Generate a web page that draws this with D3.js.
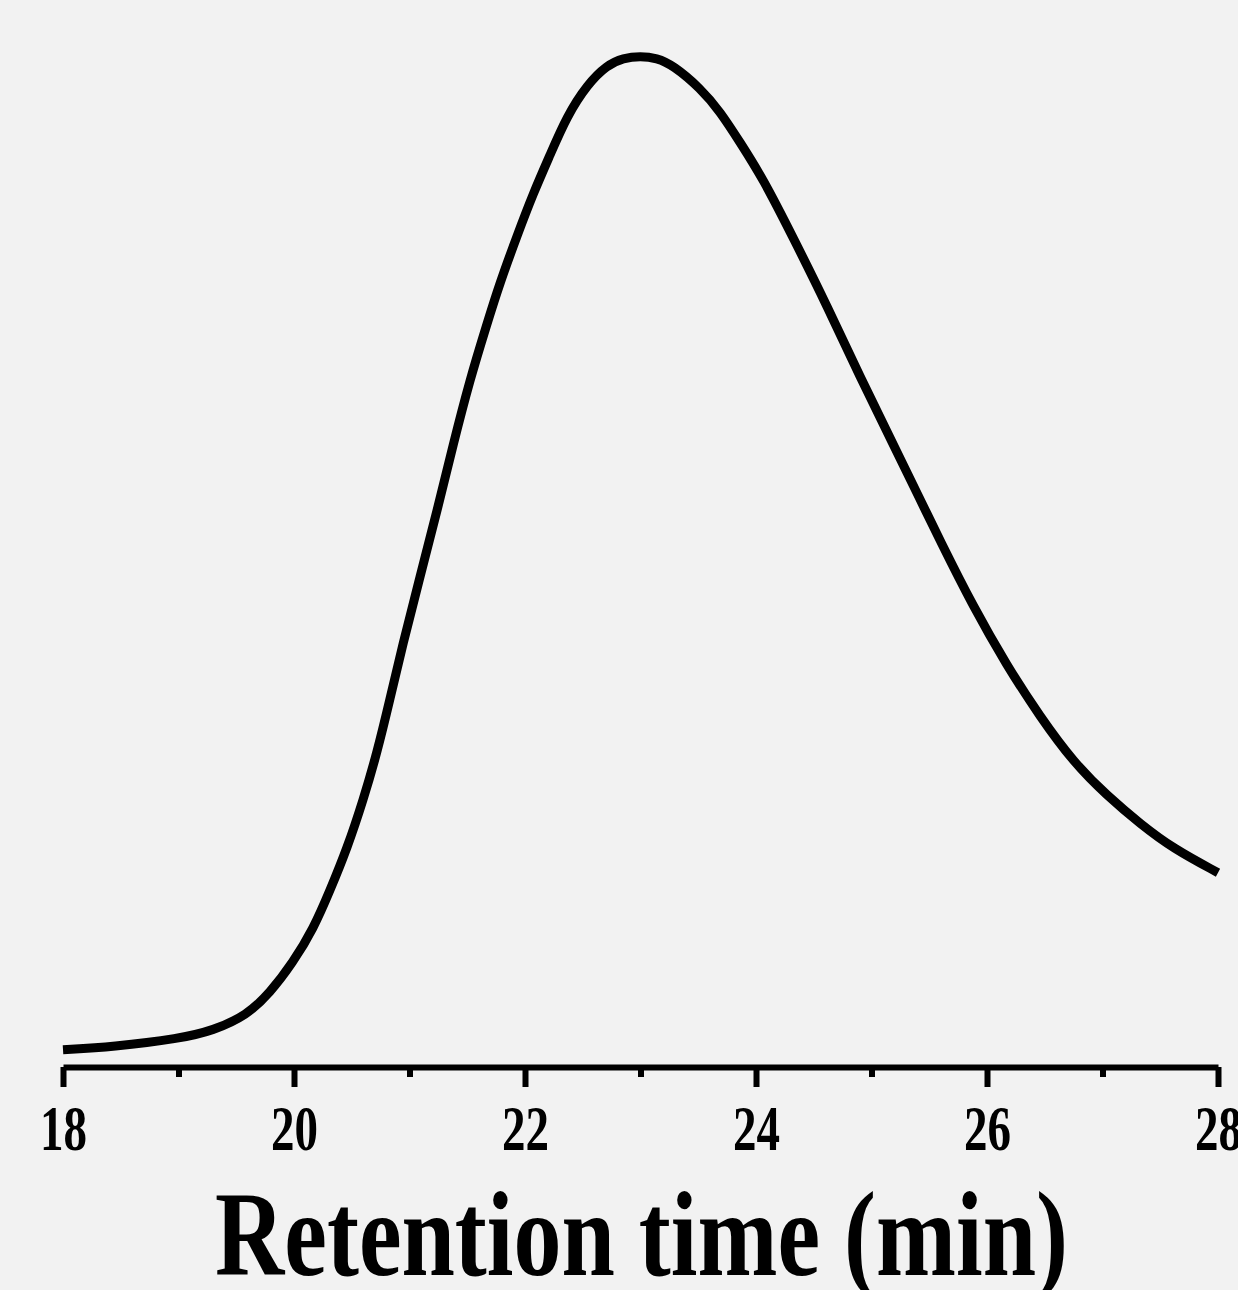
<!DOCTYPE html>
<html>
	<head>
		<style>
			body { margin: 0; background: #f2f2f2; }
			svg { display: block; }
		</style>
	</head>
	<body>
		<script src="https://cdn.jsdelivr.net/npm/d3@7"></script>

		<div id="canvas"></div>

		<script>
			// retention time (min) and detector signal (normalised)
			var times = [18.0, 18.43, 19.01, 19.3, 19.59, 19.79, 19.99, 20.17, 20.31, 20.46,
				20.6, 20.72, 20.83, 20.94, 21.09, 21.24, 21.38, 21.52, 21.67, 21.78,
				21.93, 22.07, 22.22, 22.36, 22.54, 22.71, 22.85, 23.0, 23.14, 23.28,
				23.52, 23.69, 23.86, 24.06, 24.32, 24.62, 24.9, 25.19, 25.42, 25.59,
				25.88, 26.17, 26.46, 26.75, 27.04, 27.33, 27.61, 28.0];
			var signal = [0.018, 0.021, 0.029, 0.037, 0.052, 0.074, 0.104, 0.138, 0.175, 0.217,
				0.265, 0.312, 0.364, 0.418, 0.485, 0.551, 0.617, 0.679, 0.735, 0.775,
				0.822, 0.864, 0.903, 0.94, 0.972, 0.991, 0.998, 1.0, 0.998, 0.991,
				0.968, 0.945, 0.915, 0.879, 0.821, 0.752, 0.683, 0.616, 0.562, 0.522,
				0.456, 0.398, 0.347, 0.302, 0.269, 0.241, 0.217, 0.193];

			var majorTicks = [18, 20, 22, 24, 26, 28];
			var minorTicks = [19, 21, 23, 25, 27];
			var xTitle = "Retention time (min)";

			var width = 1238;
			var height = 1290;
			var axisY = 1067;

			var points = times.map(function (t, i) {
				return { "t": t, "v": signal[i] };
			});

			var x = d3.scaleLinear().domain([18, 28]).range([63, 1218]);
			var y = d3.scaleLinear().domain([0, 1]).range([1068, 56]);

			var svg = d3.select("#canvas")
				.append("svg")
				.attr("width", width)
				.attr("height", height);

			svg.append("rect")
				.attr("width", width)
				.attr("height", height)
				.attr("fill", "#f2f2f2");

			//minor ticks first, the major axis draws the line on top
			var minorAxis = svg.append("g")
				.attr("transform", "translate(0," + axisY + ")")
				.call(d3.axisBottom(x).tickValues(minorTicks).tickSize(10).tickSizeOuter(0).tickFormat(""));
			minorAxis.select(".domain").remove();
			minorAxis.selectAll("line").attr("stroke", "black").attr("stroke-width", 6);

			var majorAxis = svg.append("g")
				.attr("transform", "translate(0," + axisY + ")")
				.call(d3.axisBottom(x).tickValues(majorTicks).tickSize(20).tickSizeOuter(0));
			majorAxis.select(".domain")
				.attr("stroke", "black")
				.attr("stroke-width", 6);
			majorAxis.selectAll(".tick line")
				.attr("stroke", "black")
				.attr("stroke-width", 6);
			majorAxis.selectAll(".tick text")
				.attr("y", 83)
				.attr("dy", null)
				.attr("fill", "black")
				.attr("font-family", "'Liberation Serif', 'Times New Roman', serif")
				.attr("font-weight", "bold")
				.attr("font-size", 64)
				.attr("textLength", 47)
				.attr("lengthAdjust", "spacingAndGlyphs")
				.attr("x", -23.5)
				.attr("text-anchor", "start");

			svg.append("path")
				.datum(points)
				.attr("fill", "none")
				.attr("stroke", "black")
				.attr("stroke-width", 9)
				.attr("stroke-linejoin", "round")
				.attr("d", d3.line()
					.x(function (d) { return x(d.t); })
					.y(function (d) { return y(d.v); })
					.curve(d3.curveBasis));

			svg.append("text")
				.attr("x", 215)
				.attr("y", 1275)
				.attr("font-family", "'Liberation Serif', 'Times New Roman', serif")
				.attr("font-weight", "bold")
				.attr("font-size", 121)
				.attr("textLength", 853)
				.attr("lengthAdjust", "spacingAndGlyphs")
				.text(xTitle);
		</script>
	</body>
</html>
